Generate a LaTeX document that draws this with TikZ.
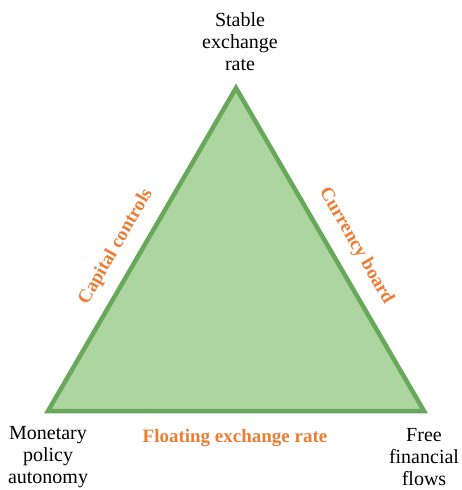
\documentclass[tikz,border=0pt]{standalone}
\usepackage{fontspec}
\setmainfont{Liberation Serif}
\definecolor{triFill}{HTML}{ADD5A0}
\definecolor{triLine}{HTML}{68A85A}
\definecolor{lblOrange}{HTML}{EB7D35}
\begin{document}
\begin{tikzpicture}[x=1pt,y=-1pt,
  corner/.style={align=center,font=\fontsize{20}{22}\selectfont,inner sep=0pt},
  sidelabel/.style={font=\fontsize{19}{22}\selectfont\bfseries,text=lblOrange,inner sep=0pt}]
\useasboundingbox (0,0) rectangle (461,490);
\coordinate (T) at (236,88);
\coordinate (L) at (48,411);
\coordinate (R) at (424,411);
\filldraw[fill=triFill,draw=triLine,line width=4.5pt,line join=miter] (T) -- (L) -- (R) -- cycle;
\node[corner] (top) at (240,42) {Stable\\exchange\\rate};
\node[corner] (mon) at (48,457) {Monetary\\policy\\autonomy};
\node[corner] (free) at (424,457) {Free\\financial\\flows};
\node[sidelabel,rotate=60] (cap) at (116,247) {Capital controls};
\node[sidelabel,rotate=-60] (cur) at (356,246) {Currency board};
\node[sidelabel] (flo) at (235,438) {Floating exchange rate};
\end{tikzpicture}
\end{document}
